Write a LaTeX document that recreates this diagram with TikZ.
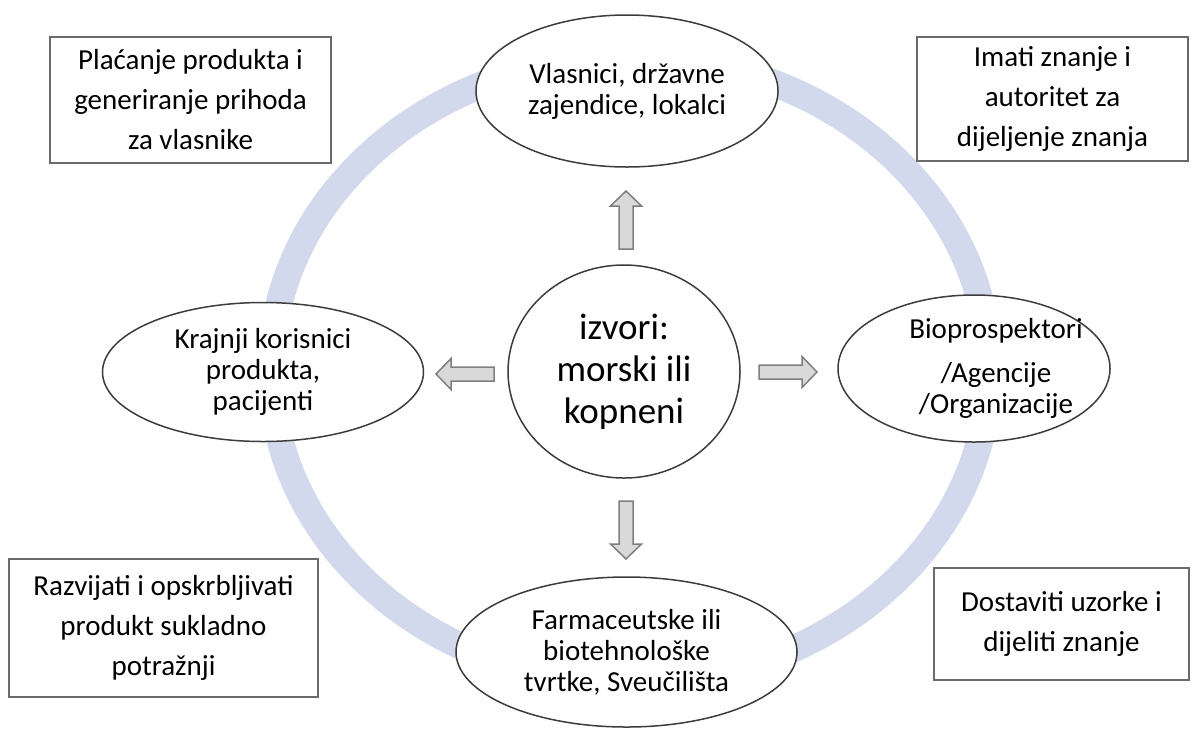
\documentclass[tikz,border=0pt]{standalone}
\usepackage{fontspec}
\setmainfont{Carlito}
\usetikzlibrary{shapes.geometric}
\definecolor{ringc}{HTML}{D3D9ED}
\definecolor{boxline}{HTML}{6A6A6A}
\definecolor{ellline}{HTML}{3C3C3C}
\definecolor{arrfill}{HTML}{D9D9D9}
\definecolor{arrline}{HTML}{7F7F7F}
\newcommand\blockarr[3]{\draw[blockarrow,shift={(#1,#2)},rotate=#3] (0,-7) -- (43,-7) -- (43,-15.5) -- (58,0) -- (43,15.5) -- (43,7) -- (0,7) -- cycle;}
\begin{document}
\begin{tikzpicture}[x=0.5pt,y=-0.5pt,
  infobox/.style={draw=boxline, line width=0.75pt, fill=white, align=center, inner sep=0pt,
    font=\fontsize{14.5}{20}\selectfont},
  role/.style={ellipse, draw=ellline, line width=0.75pt, fill=white, inner sep=0pt, align=center,
    font=\fontsize{14.5}{15.5}\selectfont},
  blockarrow/.style={draw=arrline, fill=arrfill, line width=0.75pt, line join=miter}]
\useasboundingbox (0,0) rectangle (1202,729);
% ring
\draw[ringc, line width=13.5pt] (630,370) ellipse [x radius=359, y radius=313];
% boxes
\node[infobox, minimum width=140.5pt, minimum height=63pt] (pay) at (190.5,100)
  {Plaćanje produkta i\\generiranje prihoda\\za vlasnike};
\node[infobox, minimum width=135.5pt, minimum height=62pt] (know) at (1052.5,99)
  {Imati znanje i\\autoritet za\\dijeljenje znanja};
\node[infobox, minimum width=154.5pt, minimum height=69pt] (dev) at (163.5,628)
  {Razvijati i opskrbljivati\\produkt sukladno\\potražnji};
\node[infobox, minimum width=127.5pt, minimum height=56pt] (deliv) at (1061.5,624)
  {Dostaviti uzorke i\\dijeliti znanje};
% ellipses
\node[role, minimum width=151pt, minimum height=76pt] (owners) at (627,91)
  {Vlasnici, državne\\zajendice, lokalci};
\node[role, minimum width=160.5pt, minimum height=69.5pt] (users) at (263,372)
  {Krajnji korisnici\\produkta,\\pacijenti};
\node[role, minimum width=136pt, minimum height=73.5pt] (bio) at (974,368.5) {};
\node[align=center, inner sep=0pt, font=\fontsize{14.5}{15.5}\selectfont] (biotxt) at (996,368)
  {Bioprospektori\\[6.5pt]/Agencije\\/Organizacije};
\node[role, minimum width=170.5pt, minimum height=75pt] (pharma) at (626.5,652)
  {Farmaceutske ili\\biotehnološke\\tvrtke, Sveučilišta};
\node[role, minimum width=116pt, minimum height=106.5pt, font=\fontsize{18.5}{21}\selectfont] (src) at (624,371.5)
  {izvori:\\morski ili\\kopneni};
% block arrows
\blockarr{626}{249}{90}
\blockarr{626}{501}{-90}
\blockarr{494}{374}{180}
\blockarr{759}{372}{0}
\end{tikzpicture}
\end{document}
